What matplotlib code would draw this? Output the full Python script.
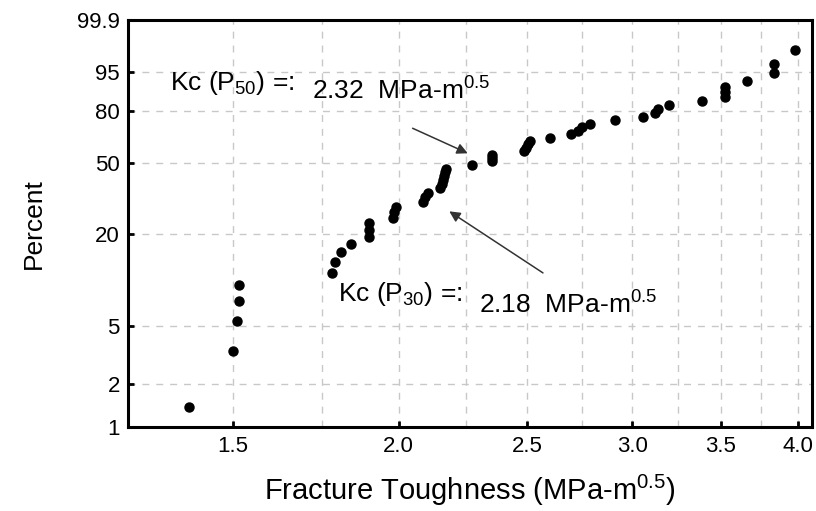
import numpy as np
import matplotlib
matplotlib.use("Agg")
import matplotlib.pyplot as plt
from matplotlib import font_manager, ticker

# fracture toughness values (MPa-m^0.5), sorted, one per specimen
toughness = [1.39, 1.50, 1.51, 1.516, 1.516,
             1.78, 1.79, 1.81, 1.84,
             1.90, 1.90, 1.90,
             1.98, 1.985, 1.99,
             2.086, 2.095, 2.103,
             2.15, 2.155, 2.16, 2.163, 2.166, 2.17,
             2.27,
             2.353, 2.353, 2.353,
             2.488, 2.495, 2.503, 2.511,
             2.60, 2.70, 2.73, 2.75, 2.79,
             2.91, 3.06, 3.12, 3.14, 3.20,
             3.39, 3.524, 3.524, 3.524,
             3.665, 3.837, 3.837, 3.98]

# cumulative percent (median rank)
percent = [1.39, 3.37, 5.36, 7.34, 9.33, 11.31, 13.29, 15.28, 17.26, 19.25,
           21.23, 23.21, 25.20, 27.18, 29.17, 31.15, 33.13, 35.12, 37.10, 39.09,
           41.07, 43.06, 45.04, 47.02, 49.01, 50.99, 52.98, 54.96, 56.94, 58.93,
           60.91, 62.90, 64.88, 66.87, 68.85, 70.83, 72.82, 74.80, 76.79, 78.77,
           80.75, 82.74, 84.72, 86.71, 88.69, 90.67, 92.66, 94.64, 96.63, 98.61]

x_ticks = [1.5, 2.0, 2.5, 3.0, 3.5, 4.0]
x_minor = [1.75, 2.25, 2.75, 3.25, 3.75]
y_ticks = [1, 2, 5, 20, 50, 80, 95, 99.9]

names = {f.name for f in font_manager.fontManager.ttflist}
base = "Liberation Sans" if "Liberation Sans" in names else "DejaVu Sans"

plt.rcParams["font.family"] = [base, "DejaVu Sans"]
plt.rcParams["mathtext.fontset"] = "custom"
plt.rcParams["mathtext.rm"] = base
plt.rcParams["mathtext.it"] = base
plt.rcParams["mathtext.default"] = "regular"


def weib(p):
    p = np.asarray(p, dtype=float)
    with np.errstate(all="ignore"):
        return np.log(-np.log(1 - p / 100.0))


def weib_inv(w):
    w = np.asarray(w, dtype=float)
    with np.errstate(all="ignore"):
        return 100.0 * (1 - np.exp(-np.exp(w)))


fig = plt.figure(figsize=(8.16, 5.11), dpi=100)
ax = fig.add_axes([0.157, 0.164, 0.838, 0.797])

ax.set_xscale("log")
ax.set_yscale("function", functions=(weib, weib_inv))
ax.set_xlim(1.25, 4.1)
ax.set_ylim(1, 99.9)

ax.xaxis.set_major_locator(ticker.FixedLocator(x_ticks))
ax.xaxis.set_major_formatter(ticker.FixedFormatter(["%.1f" % v for v in x_ticks]))
ax.xaxis.set_minor_locator(ticker.FixedLocator(x_minor))
ax.xaxis.set_minor_formatter(ticker.NullFormatter())
ax.yaxis.set_major_locator(ticker.FixedLocator(y_ticks))
ax.yaxis.set_major_formatter(ticker.FixedFormatter(["%g" % v for v in y_ticks]))
ax.yaxis.set_minor_locator(ticker.NullLocator())
ax.tick_params(axis="both", which="major", direction="in", length=4, width=2,
               pad=6, labelsize=16)
ax.tick_params(axis="x", which="minor", length=0)

ax.grid(True, which="both", color="#c8c8c8", linestyle=(0, (5, 5)), linewidth=1)
ax.set_axisbelow(True)
for s in ax.spines.values():
    s.set_linewidth(2.2)

ax.plot(toughness, percent, "o", color="black", ms=6.5, zorder=3)

ax.set_xlabel(r"Fracture Toughness (MPa-m$^{0.5}$)", fontsize=21, labelpad=12)
ax.set_ylabel("Percent", fontsize=19, labelpad=22)

arrow = dict(arrowstyle="-|>", color="#333333", lw=1.1, mutation_scale=16)
ax.annotate("", xy=(2.265, 55), xytext=(2.04, 71), arrowprops=arrow)
ax.annotate("", xy=(2.175, 28), xytext=(2.58, 11), arrowprops=arrow)

ax.text(1.345, 92, r"Kc (P$_{50}$) =:", fontsize=19, va="center")
ax.text(1.72, 89, r"2.32  MPa-m$^{0.5}$", fontsize=19, va="center")
ax.text(1.80, 8.2, r"Kc (P$_{30}$) =:", fontsize=19, va="center")
ax.text(2.30, 6.9, r"2.18  MPa-m$^{0.5}$", fontsize=19, va="center")

fig.savefig("out.png", dpi=100)
